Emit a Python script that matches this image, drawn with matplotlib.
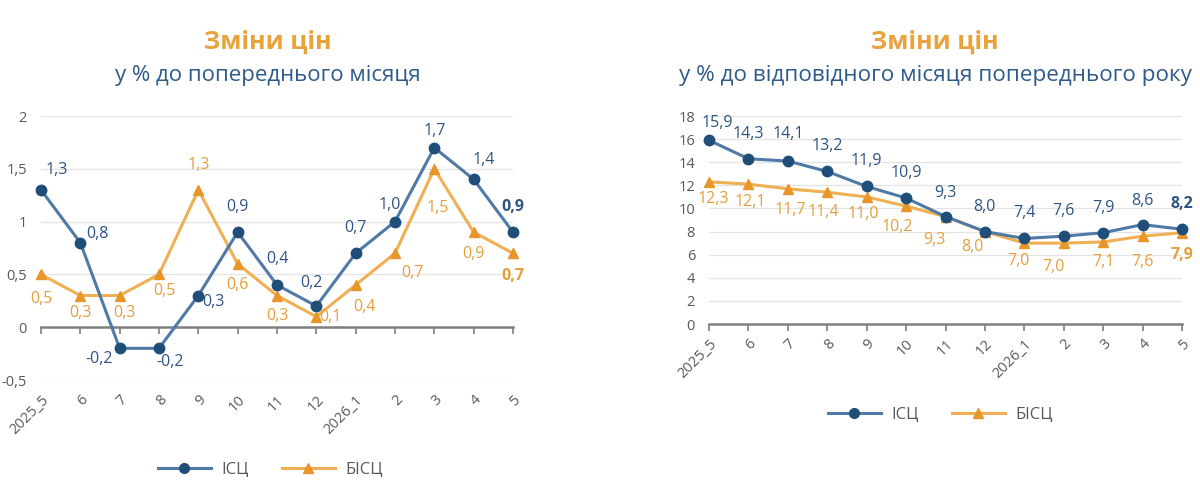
import matplotlib
matplotlib.use('Agg')
import matplotlib.pyplot as plt
from matplotlib.ticker import FuncFormatter
from matplotlib.lines import Line2D

plt.rcParams['font.family'] = ['Open Sans', 'DejaVu Sans']

# ── дані ──────────────────────────────────────────
months = ['2025_5', '6', '7', '8', '9', '10', '11', '12', '2026_1', '2', '3', '4', '5']
mom_cpi = [1.3, 0.8, -0.2, -0.2, 0.3, 0.9, 0.4, 0.2, 0.7, 1.0, 1.7, 1.4, 0.9]
mom_core = [0.5, 0.3, 0.3, 0.5, 1.3, 0.6, 0.3, 0.1, 0.4, 0.7, 1.5, 0.9, 0.7]
yoy_cpi = [15.9, 14.3, 14.1, 13.2, 11.9, 10.9, 9.3, 8.0, 7.4, 7.6, 7.9, 8.6, 8.2]
yoy_core = [12.3, 12.1, 11.7, 11.4, 11.0, 10.2, 9.3, 8.0, 7.0, 7.0, 7.1, 7.6, 7.9]
mom_yticks = [-0.5, 0, 0.5, 1, 1.5, 2]
yoy_yticks = [0, 2, 4, 6, 8, 10, 12, 14, 16, 18]

# зсуви підписів (пікселі)
mom_cpi_off = [(16, 20), (17, 9), (-21, -11), (11, -14), (15, -6), (0, 25), (0, 26),
               (-5, 23), (0, 25), (-5, 17), (0, 17), (10, 19), (0, 25)]
mom_core_off = [(0, -25), (0, -17), (5, -17), (5, -17), (0, 25), (0, -21), (0, -20),
                (14, 0), (9, -22), (17, -20), (3, -39), (0, -22), (0, -23)]
yoy_cpi_off = [(8, 17), (0, 25), (0, 27), (0, 25), (0, 25), (0, 25), (0, 24),
               (0, 25), (0, 25), (0, 25), (0, 25), (0, 24), (0, 25)]
yoy_core_off = [(4, -17), (2, -18), (2, -21), (-4, -20), (-3, -17), (-9, -21), (-11, -23),
                (-12, -15), (-6, -18), (-10, -24), (0, -20), (0, -26), (0, -22)]

# ── стилі ─────────────────────────────────────────
BLUE_LINE = '#4f7aa6'
BLUE_MK = '#1f4e79'
BLUE_TXT = '#2f5483'
OR_LINE = '#efb054'
OR_MK = '#e8952a'
OR_TXT = '#e59e3a'
TITLE_C = '#e8a33d'
SUB_C = '#2e5a8c'
GRAY_TXT = '#595959'


def fmt(v):
    return f'{v:.1f}'.replace('.', ',')


def yfmt(v, _):
    return f'{v:g}'.replace('.', ',')


def draw(ax, cpi, core, cpi_off, core_off, yticks, pad):
    x = list(range(len(months)))
    ax.plot(x, cpi, color=BLUE_LINE, lw=2.2, marker='o', ms=7.5, mfc=BLUE_MK, mec=BLUE_MK,
            clip_on=False, zorder=4)
    ax.plot(x, core, color=OR_LINE, lw=2.2, marker='^', ms=7.5, mfc=OR_MK, mec=OR_MK,
            clip_on=False, zorder=3)
    n = len(months)
    for i in range(n):
        w = 'bold' if i == n - 1 else 'normal'
        ax.annotate(fmt(cpi[i]), (i, cpi[i]), xytext=cpi_off[i], textcoords='offset pixels',
                    ha='center', va='center', fontsize=11.5, color=BLUE_TXT, fontweight=w,
                    zorder=6)
        ax.annotate(fmt(core[i]), (i, core[i]), xytext=core_off[i], textcoords='offset pixels',
                    ha='center', va='center', fontsize=11.5, color=OR_TXT, fontweight=w,
                    zorder=6)
    ax.set_xlim(0, n - 1)
    ax.set_ylim(yticks[0], yticks[-1])
    ax.set_yticks(yticks)
    ax.yaxis.set_major_formatter(FuncFormatter(yfmt))
    ax.set_xticks(x)
    ax.set_xticklabels(months)
    for s in ['top', 'right', 'left']:
        ax.spines[s].set_visible(False)
    ax.spines['bottom'].set_position(('data', 0))
    ax.spines['bottom'].set_color('#7f7f7f')
    ax.spines['bottom'].set_linewidth(1.8)
    ax.spines['bottom'].set_zorder(2)
    ax.tick_params(axis='x', length=5, width=1.2, color='#7f7f7f', pad=pad,
                   labelsize=10.5, labelcolor=GRAY_TXT)
    ax.tick_params(axis='y', length=0, pad=10, labelsize=10.5, labelcolor=GRAY_TXT)
    for lab in ax.get_xticklabels():
        lab.set_rotation(45)
        lab.set_ha('right')
        lab.set_va('top')
        lab.set_rotation_mode('anchor')
    for t in yticks:
        if t != 0:
            ax.axhline(t, color='#e3e3e3', lw=0.9, zorder=0)


fig = plt.figure(figsize=(12, 5), dpi=100)
ax1 = fig.add_axes([41 / 1200, 120 / 500, 472 / 1200, 264 / 500])
ax2 = fig.add_axes([709 / 1200, 176 / 500, 473 / 1200, 208 / 500])

draw(ax1, mom_cpi, mom_core, mom_cpi_off, mom_core_off, mom_yticks, 42)
draw(ax2, yoy_cpi, yoy_core, yoy_cpi_off, yoy_core_off, yoy_yticks, 4)

fig.text(268 / 1200, 1 - 42 / 500, 'Зміни цін', ha='center', va='center',
         fontsize=18, fontweight='bold', color=TITLE_C)
fig.text(268 / 1200, 1 - 75 / 500, 'у % до попереднього місяця', ha='center', va='center',
         fontsize=16, color=SUB_C)
fig.text(935 / 1200, 1 - 42 / 500, 'Зміни цін', ha='center', va='center',
         fontsize=18, fontweight='bold', color=TITLE_C)
fig.text(935 / 1200, 1 - 75 / 500, 'у % до відповідного місяця попереднього року',
         ha='center', va='center', fontsize=16.2, color=SUB_C)

handles = [Line2D([], [], color=BLUE_LINE, lw=2.2, marker='o', ms=7, mfc=BLUE_MK, mec=BLUE_MK),
           Line2D([], [], color=OR_LINE, lw=2.2, marker='^', ms=7, mfc=OR_MK, mec=OR_MK)]
names = ['ІСЦ', 'БІСЦ']
for cx, cy in [(270 / 1200, 1 - 470 / 500), (940 / 1200, 1 - 415 / 500)]:
    leg = fig.legend(handles, names, loc='center', bbox_to_anchor=(cx, cy), ncol=2,
                     frameon=False, fontsize=12, handlelength=3.2, columnspacing=2.0,
                     handletextpad=0.6)
    for t in leg.get_texts():
        t.set_color(GRAY_TXT)

fig.savefig('out.png', dpi=100)
